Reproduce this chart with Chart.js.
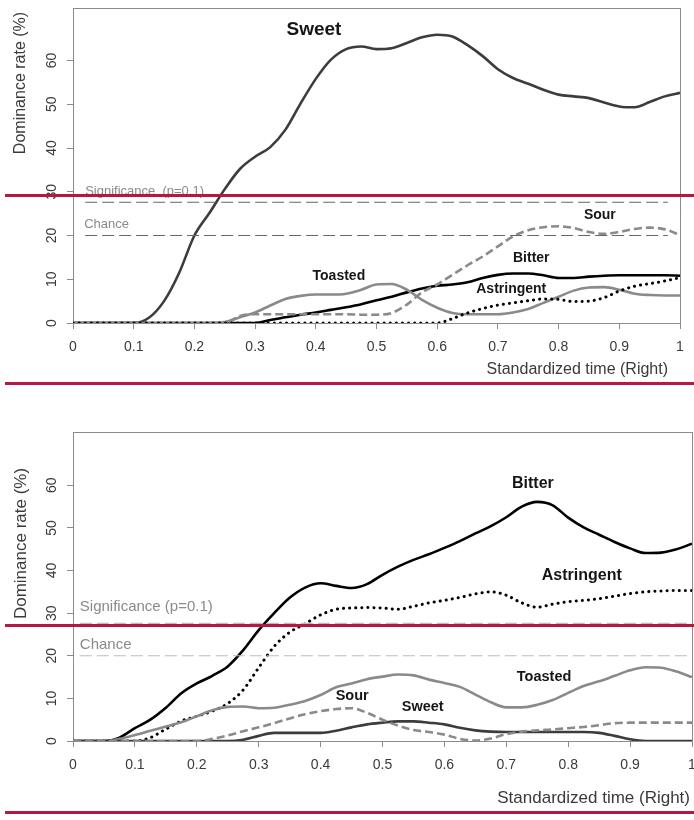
<!DOCTYPE html>
<html>
<head>
<meta charset="utf-8">
<title>Dominance rate – Right</title>
<script src="https://cdn.jsdelivr.net/npm/chart.js@4.4.1/dist/chart.umd.min.js"></script>
<style>
  html, body { margin: 0; padding: 0; background: #fff; }
  #wrap { position: relative; width: 694px; height: 820px; overflow: hidden; background: #fff; }
  #wrap canvas { position: absolute; left: 0; }
  .rule { position: absolute; left: 5px; right: 0; height: 3px; background: #b8183f; }
</style>
</head>
<body>
<div id="wrap">
  <canvas id="panelA" width="694" height="400" style="top:0"></canvas>
  <canvas id="panelB" width="694" height="400" style="top:420px"></canvas>
  <div class="rule" style="top:194px"></div>
  <div class="rule" style="top:382px"></div>
  <div class="rule" style="top:624px"></div>
  <div class="rule" style="top:811px"></div>
</div>
<script>
// Standardized time grid shared by every curve
const TIME = [0, 0.025, 0.05, 0.075, 0.1, 0.125, 0.15, 0.175, 0.2, 0.225,
              0.25, 0.275, 0.3, 0.325, 0.35, 0.375, 0.4, 0.425, 0.45, 0.475,
              0.5, 0.525, 0.55, 0.575, 0.6, 0.625, 0.65, 0.675, 0.7, 0.725,
              0.75, 0.775, 0.8, 0.825, 0.85, 0.875, 0.9, 0.925, 0.95, 0.975, 1];

const X_TICKS = [0, 0.1, 0.2, 0.3, 0.4, 0.5, 0.6, 0.7, 0.8, 0.9, 1];
const X_TICK_LABELS = ['0', '0.1', '0.2', '0.3', '0.4', '0.5', '0.6', '0.7', '0.8', '0.9', '1'];
const Y_TICKS = [0, 10, 20, 30, 40, 50, 60];

const SIGNIFICANCE = 27.6;   // p = 0.1
const CHANCE = 20;

// Panel A dominance rates (%)
const A_SWEET = [0, 0, 0, 0, 0, 1.2, 5, 11.5, 20, 25.2, 30.6, 35.2, 38, 40.2, 44.2, 50.2, 55.8, 60.2, 62.6, 63.2,
                 62.6, 62.8, 64, 65.3, 65.9, 65.5, 63.5, 61, 58, 56, 54.7, 53.3, 52.2, 51.8, 51.4, 50.4, 49.5, 49.3, 50.5, 51.8, 52.6];
const A_TOASTED = [0, 0, 0, 0, 0, 0, 0, 0, 0, 0, 0.2, 1.3, 2.4, 4.0, 5.5, 6.2, 6.5, 6.5, 6.7, 7.6,
                   8.8, 8.9, 7.6, 5.3, 3.5, 2.3, 2.0, 2.0, 2.0, 2.4, 3.2, 4.6, 6.0, 7.4, 8.1, 8.2, 7.6, 6.7, 6.4, 6.3, 6.3];
const A_BITTER = [0, 0, 0, 0, 0, 0, 0, 0, 0, 0, 0, 0, 0, 0.7, 1.3, 1.9, 2.4, 3.0, 3.6, 4.3,
                  5.2, 6.0, 7.0, 7.9, 8.5, 8.8, 9.3, 10.3, 11.0, 11.3, 11.3, 10.9, 10.3, 10.3, 10.6, 10.8, 10.9, 10.9, 10.9, 10.9, 10.8];
const A_SOUR = [0, 0, 0, 0, 0, 0, 0, 0, 0, 0, 0, 1.6, 2.0, 2.0, 2.0, 2.0, 2.0, 2.0, 2.0, 1.9,
                1.9, 2.3, 4.2, 7.0, 8.8, 11.0, 13.2, 15.2, 17.5, 19.8, 21.2, 21.9, 22.1, 21.7, 20.8, 20.4, 20.8, 21.5, 21.8, 21.4, 20.1];
const A_ASTRINGENT = [0, 0, 0, 0, 0, 0, 0, 0, 0, 0, 0, 0, 0, 0, 0, 0, 0, 0, 0, 0,
                      0, 0, 0, 0, 0, 1.0, 2.3, 3.3, 4.1, 4.6, 5.1, 5.5, 5.4, 4.9, 5.0, 5.8, 7.3, 8.4, 9.0, 9.6, 10.4];

// Panel B dominance rates (%)
const B_BITTER = [0, 0, 0, 0.8, 3.0, 5.0, 7.8, 11.2, 13.5, 15.3, 17.5, 21.3, 26.0, 30.0, 33.6, 36.0, 37.0, 36.4, 35.9, 36.8,
                  39.0, 40.9, 42.5, 43.8, 45.3, 46.9, 48.7, 50.4, 52.5, 55.0, 56.1, 55.3, 52.4, 50.1, 48.4, 46.7, 45.2, 44.1, 44.2, 45.0, 46.3];
const B_ASTRINGENT = [0, 0, 0, 0, 0, 0.8, 2.8, 4.7, 5.8, 7.0, 8.8, 12.0, 17.2, 22.2, 25.5, 27.5, 29.6, 30.9, 31.2, 31.3,
                      31.2, 30.9, 31.6, 32.4, 33.0, 33.7, 34.5, 35.0, 34.2, 32.4, 31.4, 32.1, 32.7, 33.0, 33.4, 34.0, 34.6, 35.0, 35.2, 35.3, 35.3];
const B_TOASTED = [0, 0, 0, 0.5, 1.4, 2.4, 3.4, 4.4, 5.8, 7.2, 8.0, 8.1, 7.7, 7.8, 8.5, 9.4, 10.8, 12.6, 13.5, 14.5,
                   15.1, 15.6, 15.4, 14.4, 13.6, 12.7, 10.9, 9.1, 7.9, 7.9, 8.5, 9.6, 11.3, 12.9, 14.0, 15.3, 16.6, 17.3, 17.2, 16.3, 15.0];
const B_SOUR = [0, 0, 0, 0, 0, 0, 0, 0, 0, 0.5, 1.3, 2.3, 3.2, 4.2, 5.3, 6.3, 7.0, 7.5, 7.7, 6.6,
                5.0, 3.6, 2.6, 2.1, 1.5, 0.5, 0.1, 0.6, 1.6, 2.2, 2.5, 2.7, 3.0, 3.3, 3.7, 4.2, 4.3, 4.3, 4.3, 4.3, 4.3];
const B_SWEET = [0, 0, 0, 0, 0, 0, 0, 0, 0, 0, 0, 0.3, 1.2, 1.9, 1.9, 1.9, 1.9, 2.4, 3.2, 3.9,
                 4.3, 4.6, 4.6, 4.3, 3.9, 3.1, 2.5, 2.2, 2.1, 2.1, 2.1, 2.1, 2.1, 2.1, 1.9, 1.2, 0.4, 0, 0, 0, 0];

const FONT = '"Liberation Sans", Arial, Helvetica, sans-serif';

// line styles per attribute
const STYLE = {
  Sweet:      { color: '#3c3c3c', dash: [] },
  Toasted:    { color: '#8a8a8a', dash: [] },
  Bitter:     { color: '#000000', dash: [] },
  Sour:       { color: '#8a8a8a', dash: [8, 4] },
  Astringent: { color: '#000000', dash: [0.1, 6], cap: 'round' }
};

function curve(name, values) {
  const s = STYLE[name];
  return {
    label: name,
    data: TIME.map((t, i) => ({ x: t, y: values[i] })),
    borderColor: s.color,
    borderWidth: name === 'Astringent' ? 3 : 2.6,
    borderDash: s.dash,
    borderCapStyle: s.cap || 'butt',
    cubicInterpolationMode: 'monotone',
    pointRadius: 0,
    fill: false
  };
}

function refLine(level, x0, x1, color) {
  return {
    label: 'ref',
    data: [{ x: x0, y: level }, { x: x1, y: level }],
    borderColor: color,
    borderWidth: 1.2,
    borderDash: [12, 5],
    pointRadius: 0,
    tension: 0,
    fill: false
  };
}

// frame, tick labels, titles and in-plot annotations
const panelDecor = {
  id: 'panelDecor',
  beforeDatasetsDraw(chart, args, o) {
    const { ctx, chartArea: a } = chart;
    ctx.save();
    ctx.strokeStyle = '#8c8c8c';
    ctx.lineWidth = 1;
    ctx.strokeRect(a.left + 0.5, a.top + 0.5, a.right - a.left, a.bottom - a.top);
    ctx.restore();
  },
  afterDraw(chart, args, o) {
    const { ctx, chartArea: a, scales: { x, y } } = chart;
    ctx.save();
    ctx.fillStyle = '#3a3a3a';
    ctx.textBaseline = 'middle';

    // x tick labels
    ctx.font = `${o.tickSize}px ${FONT}`;
    ctx.textAlign = 'center';
    X_TICKS.forEach((v, i) => ctx.fillText(X_TICK_LABELS[i], x.getPixelForValue(v), a.bottom + o.xTickOffset));

    // y tick labels, rotated
    Y_TICKS.forEach(v => {
      ctx.save();
      ctx.translate(o.yTickX, y.getPixelForValue(v));
      ctx.rotate(-Math.PI / 2);
      ctx.fillText(String(v), 0, 0);
      ctx.restore();
    });

    // axis titles
    ctx.font = `${o.titleSize}px ${FONT}`;
    ctx.save();
    ctx.translate(o.yTitleX, o.yTitleY);
    ctx.rotate(-Math.PI / 2);
    ctx.fillText('Dominance rate (%)', 0, 0);
    ctx.restore();
    ctx.textAlign = 'right';
    ctx.fillText('Standardized time (Right)', o.xTitleRight, o.xTitleY);

    // reference line captions
    ctx.textAlign = 'left';
    ctx.fillStyle = o.refTextColor;
    ctx.font = `${o.refTextSize}px ${FONT}`;
    o.refText.forEach(r => ctx.fillText(r.text, x.getPixelForValue(r.x), y.getPixelForValue(r.y)));

    // attribute names
    ctx.textAlign = 'center';
    ctx.fillStyle = '#161616';
    o.names.forEach(n => {
      ctx.font = `bold ${n.size}px ${FONT}`;
      ctx.fillText(n.text, x.getPixelForValue(n.x), y.getPixelForValue(n.y));
    });
    ctx.restore();
  }
};

function panel(id, p) {
  return new Chart(document.getElementById(id), {
    type: 'line',
    data: { datasets: p.datasets },
    plugins: [panelDecor],
    options: {
      responsive: false,
      animation: false,
      events: [],
      layout: { padding: { top: p.padTop, right: p.padRight, bottom: 0, left: 0 } },
      plugins: {
        legend: { display: false },
        tooltip: { enabled: false },
        panelDecor: p.decor
      },
      scales: {
        x: {
          type: 'linear', min: 0, max: 1,
          afterBuildTicks: s => { s.ticks = X_TICKS.map(v => ({ value: v })); },
          afterFit: s => { s.height = p.xAxisHeight; },
          ticks: { display: false },
          grid: { drawOnChartArea: false, drawTicks: true, tickLength: 6, color: '#8c8c8c' },
          border: { display: true, color: '#8c8c8c', width: 1 }
        },
        y: {
          type: 'linear', min: 0, max: p.yMax,
          afterBuildTicks: s => { s.ticks = Y_TICKS.map(v => ({ value: v })); },
          afterFit: s => { s.width = 73; },
          ticks: { display: false },
          grid: { drawOnChartArea: false, drawTicks: true, tickLength: 6, color: '#8c8c8c' },
          border: { display: true, color: '#8c8c8c', width: 1 }
        }
      }
    }
  });
}

panel('panelA', {
  padTop: 8, padRight: 14, xAxisHeight: 77, yMax: 72,
  datasets: [
    refLine(SIGNIFICANCE, 0.02, 0.98, '#666666'),
    refLine(CHANCE, 0.02, 0.98, '#666666'),
    curve('Astringent', A_ASTRINGENT),
    curve('Sour', A_SOUR),
    curve('Toasted', A_TOASTED),
    curve('Bitter', A_BITTER),
    curve('Sweet', A_SWEET)
  ],
  decor: {
    tickSize: 14, xTickOffset: 24, yTickX: 52,
    titleSize: 16, yTitleX: 20.5, yTitleY: 83, xTitleRight: 668, xTitleY: 370,
    refTextSize: 13, refTextColor: '#8a8a8a',
    refText: [
      { text: 'Significance  (p=0.1)', x: 0.02, y: 30.0 },
      { text: 'Chance', x: 0.0185, y: 22.6 }
    ],
    names: [
      { text: 'Sweet', x: 0.397, y: 67.0, size: 19 },
      { text: 'Toasted', x: 0.438, y: 10.7, size: 14 },
      { text: 'Bitter', x: 0.755, y: 14.9, size: 14 },
      { text: 'Astringent', x: 0.722, y: 7.8, size: 14 },
      { text: 'Sour', x: 0.868, y: 24.7, size: 14 }
    ]
  }
});

panel('panelB', {
  padTop: 12, padRight: 2, xAxisHeight: 79, yMax: 72.5,
  datasets: [
    refLine(SIGNIFICANCE, 0.011, 1, '#bdbdbd'),
    refLine(CHANCE, 0.011, 1, '#bdbdbd'),
    curve('Sour', B_SOUR),
    curve('Sweet', B_SWEET),
    curve('Toasted', B_TOASTED),
    curve('Astringent', B_ASTRINGENT),
    curve('Bitter', B_BITTER)
  ],
  decor: {
    tickSize: 14, xTickOffset: 24.5, yTickX: 52,
    titleSize: 17, yTitleX: 21, yTitleY: 123.5, xTitleRight: 690, xTitleY: 378,
    refTextSize: 15, refTextColor: '#8a8a8a',
    refText: [
      { text: 'Significance (p=0.1)', x: 0.011, y: 31.5 },
      { text: 'Chance', x: 0.011, y: 22.5 }
    ],
    names: [
      { text: 'Bitter', x: 0.743, y: 60.3, size: 16 },
      { text: 'Astringent', x: 0.822, y: 38.7, size: 16 },
      { text: 'Toasted', x: 0.761, y: 15.0, size: 14.5 },
      { text: 'Sour', x: 0.451, y: 10.6, size: 14.5 },
      { text: 'Sweet', x: 0.565, y: 8.0, size: 14.5 }
    ]
  }
});
</script>
</body>
</html>
